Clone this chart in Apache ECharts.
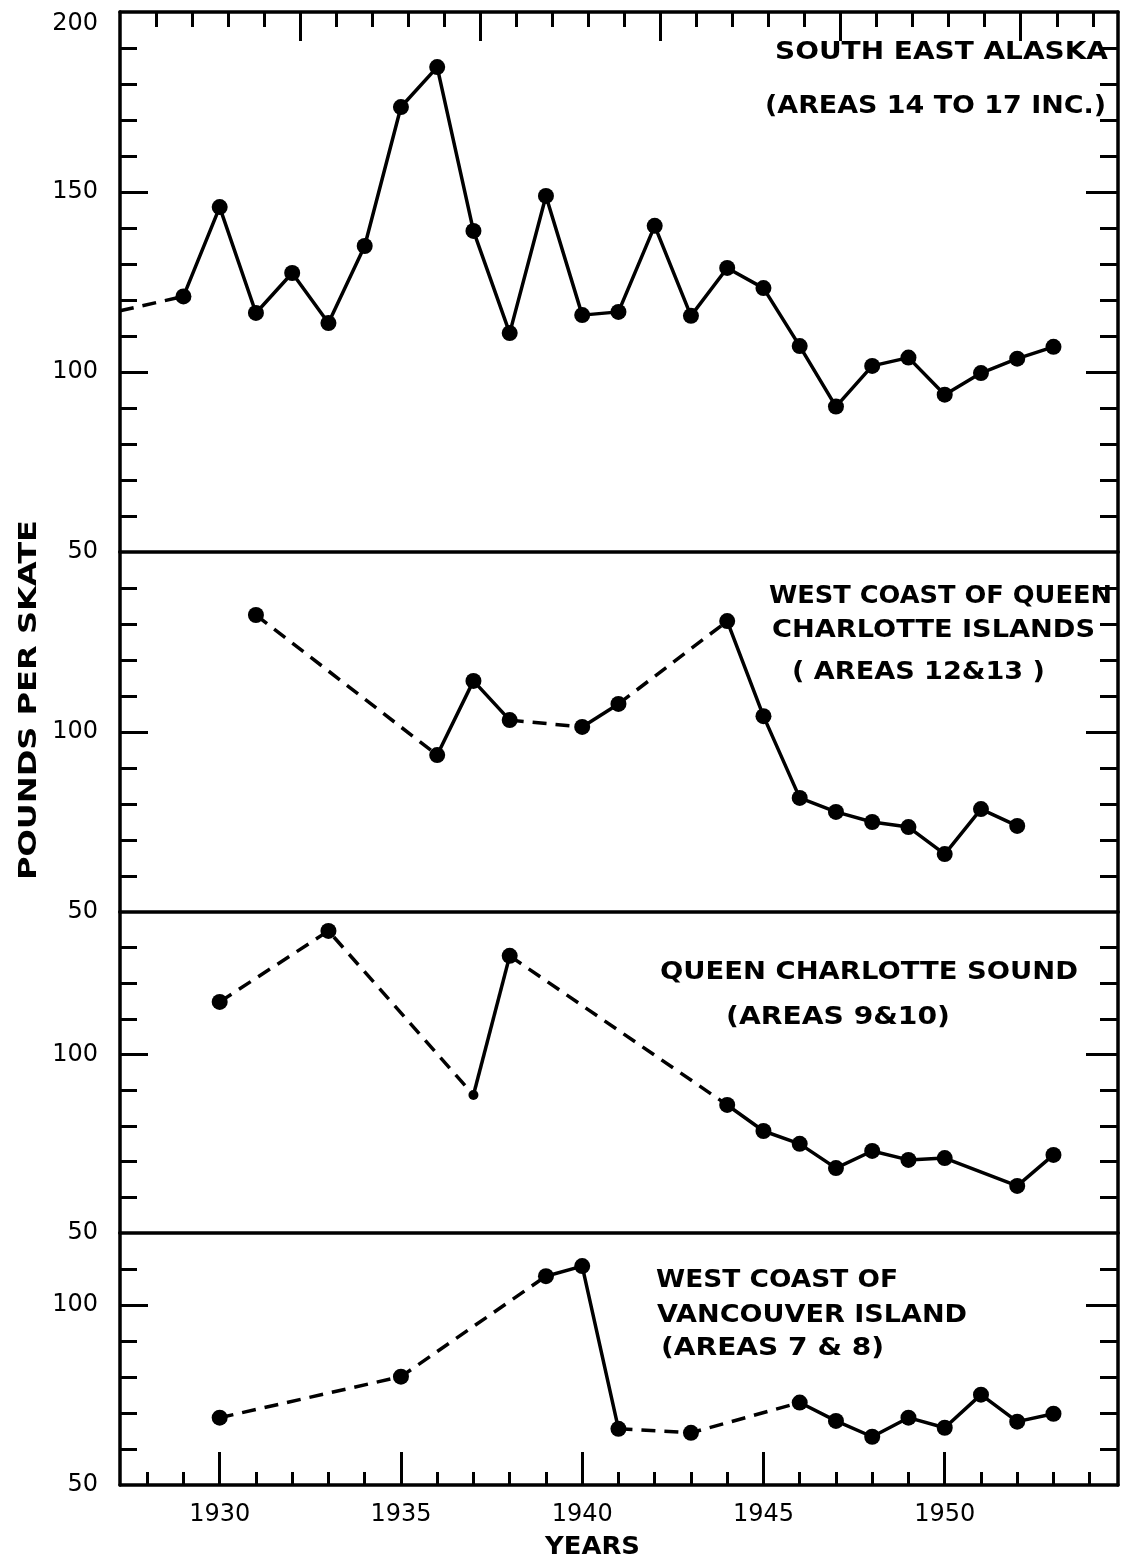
<!DOCTYPE html>
<html>
<head>
<meta charset="utf-8">
<script src="https://cdn.jsdelivr.net/npm/echarts@6/dist/echarts.min.js"></script>
<style>
html,body{margin:0;padding:0;background:#ffffff;}
#chart{width:1130px;height:1559px;}
</style>
</head>
<body>
<div id="chart"></div>
<script>
// ------------------------------------------------------------------
// DATA — pounds per skate by year
// "dashed" flags mark segments that bridge missing years.
// ------------------------------------------------------------------
const yearLabels = [1930, 1935, 1940, 1945, 1950];
const yAxisTitle = 'POUNDS PER SKATE';
const xAxisTitle = 'YEARS';

// South East Alaska (Areas 14 to 17 inc.) — first point is the lead-in from the left edge
const seaYears  = [1927.25, 1929, 1930, 1931, 1932, 1933, 1934, 1935, 1936, 1937, 1938, 1939, 1940,
                   1941, 1942, 1943, 1944, 1945, 1946, 1947, 1948, 1949, 1950, 1951, 1952, 1953];
const seaValues = [117, 121, 145.8, 116.4, 127.5, 113.6, 135, 173.6, 184.7, 139.2, 110.8, 148.9, 115.8,
                   116.7, 140.6, 115.6, 128.9, 123.3, 107.2, 90.4, 101.7, 104, 93.7, 99.7, 103.7, 107];
const seaDashed = [1, 0, 0, 0, 0, 0, 0, 0, 0, 0, 0, 0, 0, 0, 0, 0, 0, 0, 0, 0, 0, 0, 0, 0, 0];
const seaLeadIn = 1;   // number of leading points with no marker
const seaTitle  = ['SOUTH EAST ALASKA', '(AREAS 14 TO 17 INC.)'];

// West Coast of Queen Charlotte Islands (Areas 12 & 13)
const wqcYears  = [1931, 1936, 1937, 1938, 1940, 1941, 1944, 1945, 1946, 1947, 1948, 1949, 1950, 1951, 1952];
const wqcValues = [132.5, 93.6, 114.2, 103.3, 101.4, 107.8, 130.8, 104.4, 81.7, 77.8, 75, 73.6, 66.1, 78.6, 73.9];
const wqcDashed = [1, 0, 0, 1, 0, 1, 0, 0, 0, 0, 0, 0, 0, 0];
const wqcTitle  = ['WEST COAST OF QUEEN', 'CHARLOTTE ISLANDS', '( AREAS 12&13 )'];

// Queen Charlotte Sound (Areas 9 & 10)
const qcsYears  = [1930, 1933, 1937, 1938, 1944, 1945, 1946, 1947, 1948, 1949, 1950, 1952, 1953];
const qcsValues = [114.8, 134.7, 88.7, 127.7, 85.9, 78.6, 75, 68.2, 73, 70.5, 71, 63.2, 71.9];
const qcsDashed = [1, 1, 0, 1, 0, 0, 0, 0, 0, 0, 0, 0];
const qcsSmall  = [1937];  // year drawn with a small dot
const qcsTitle  = ['QUEEN CHARLOTTE SOUND', '(AREAS 9&10)'];

// West Coast of Vancouver Island (Areas 7 & 8)
const wviYears  = [1930, 1935, 1939, 1940, 1941, 1943, 1946, 1947, 1948, 1949, 1950, 1951, 1952, 1953];
const wviValues = [68.7, 80.1, 108, 110.8, 65.6, 64.5, 72.9, 67.8, 63.4, 68.7, 65.9, 75.1, 67.6, 69.8];
const wviDashed = [1, 1, 0, 0, 1, 1, 0, 0, 0, 0, 0, 0, 0];
const wviTitle  = ['WEST COAST OF', 'VANCOUVER ISLAND', '(AREAS 7 & 8)'];

// y-axis ranges and labelled values per panel
const panelMax    = [200, 150, 140, 120];
const panelLabels = [[50, 100, 150, 200], [50, 100], [50, 100], [50, 100]];

// ------------------------------------------------------------------
// LAYOUT / STYLE
// ------------------------------------------------------------------
const X_MIN = 1927.25, X_MAX = 1954.78;
const GRID_LEFT = 120, GRID_RIGHT = 12;
const gridTops    = [12, 552, 912, 1233];
const gridHeights = [540, 360, 321, 252];
const INK = '#000000';
const FONT = '"DejaVu Sans", "Noto Sans", sans-serif';

const panels = [
  { years: seaYears, values: seaValues, dashed: seaDashed, leadIn: seaLeadIn, small: [] },
  { years: wqcYears, values: wqcValues, dashed: wqcDashed, leadIn: 0, small: [] },
  { years: qcsYears, values: qcsValues, dashed: qcsDashed, leadIn: 0, small: qcsSmall },
  { years: wviYears, values: wviValues, dashed: wviDashed, leadIn: 0, small: [] }
];

// annotation placement: [text, leftX, rightX, centerY]
const annotations = [
  [seaTitle[0], 775, 1108, 52],
  [seaTitle[1], 765, 1106, 106],
  [wqcTitle[0], 769, 1112, 596],
  [wqcTitle[1], 772, 1095, 630],
  [wqcTitle[2], 792, 1045, 672],
  [qcsTitle[0], 660, 1078, 972],
  [qcsTitle[1], 726, 950, 1017],
  [wviTitle[0], 656, 898, 1280],
  [wviTitle[1], 657, 967, 1315],
  [wviTitle[2], 661, 884, 1348],
  [xAxisTitle, 545, 640, 1547]
];

// ------------------------------------------------------------------
const range = (a, b, step) => { const r = []; for (let v = a; v <= b + 1e-9; v += step) r.push(v); return r; };

const grids = [], xAxes = [], yAxes = [], series = [];
const axisLineStyle = { color: INK, width: 3.5 };
const tickLine = { color: INK, width: 3 };
const labelStyle = { color: INK, fontFamily: FONT, fontSize: 24 };

panels.forEach((p, i) => {
  grids.push({ left: GRID_LEFT, right: GRID_RIGHT, top: gridTops[i], height: gridHeights[i],
               containLabel: false, outerBoundsMode: 'none' });

  // bottom x axis (panel separator / bottom frame)
  const xi = xAxes.length;
  xAxes.push({
    type: 'value', gridIndex: i, min: X_MIN, max: X_MAX, position: 'bottom',
    axisLine: { show: true, onZero: false, lineStyle: axisLineStyle },
    axisTick: i === 3 ? { show: true, inside: true, length: 13, lineStyle: tickLine,
                          customValues: range(1928, 1954, 1).filter(v => v % 5 !== 0) } : { show: false },
    axisLabel: i === 3 ? Object.assign({ show: true, customValues: yearLabels, formatter: v => String(v),
                           margin: 18 }, labelStyle) : { show: false },
    splitLine: { show: false }
  });
  if (i === 3) {
    xAxes.push({
      type: 'value', gridIndex: i, min: X_MIN, max: X_MAX, position: 'bottom',
      axisLine: { show: false, onZero: false },
      axisTick: { show: true, inside: true, length: 33, lineStyle: tickLine, customValues: yearLabels },
      axisLabel: { show: false }, splitLine: { show: false }
    });
  }
  if (i === 0) {
    // top frame: hand-ruled scale whose ticks are offset from the bottom axis
    xAxes.push({
      type: 'value', gridIndex: 0, min: 0, max: 27.7, position: 'top',
      axisLine: { show: true, onZero: false, lineStyle: axisLineStyle },
      axisTick: { show: true, inside: true, length: 15, lineStyle: tickLine,
                  customValues: range(1, 27, 1).filter(v => v % 5 !== 0) },
      axisLabel: { show: false }, splitLine: { show: false }
    });
    xAxes.push({
      type: 'value', gridIndex: 0, min: 0, max: 27.7, position: 'top',
      axisLine: { show: false, onZero: false },
      axisTick: { show: true, inside: true, length: 29, lineStyle: tickLine, customValues: [5, 10, 15, 20, 25] },
      axisLabel: { show: false }, splitLine: { show: false }
    });
  }

  const ymax = panelMax[i];
  const minor = range(60, ymax - 10, 10).filter(v => v % 50 !== 0);
  const major = range(100, ymax - 1, 50);
  const yi = yAxes.length;
  const yBase = { type: 'value', gridIndex: i, min: 50, max: ymax, splitLine: { show: false } };
  yAxes.push(Object.assign({}, yBase, {
    position: 'left',
    axisLine: { show: true, onZero: false, lineStyle: axisLineStyle },
    axisTick: { show: true, inside: true, length: 28, lineStyle: tickLine, customValues: major },
    axisLabel: Object.assign({ show: true, customValues: panelLabels[i], formatter: v => String(v),
                 margin: 22, verticalAlignMaxLabel: i === 0 ? 'top' : null }, labelStyle)
  }));
  yAxes.push(Object.assign({}, yBase, {
    position: 'left',
    axisLine: { show: false, onZero: false },
    axisTick: { show: true, inside: true, length: 17, lineStyle: tickLine, customValues: minor },
    axisLabel: { show: false }
  }));
  yAxes.push(Object.assign({}, yBase, {
    position: 'right',
    axisLine: { show: true, onZero: false, lineStyle: axisLineStyle },
    axisTick: { show: true, inside: true, length: 18, lineStyle: tickLine, customValues: minor },
    axisLabel: { show: false }
  }));
  yAxes.push(Object.assign({}, yBase, {
    position: 'right',
    axisLine: { show: false, onZero: false },
    axisTick: { show: true, inside: true, length: 32, lineStyle: tickLine, customValues: major },
    axisLabel: { show: false }
  }));

  // line runs: consecutive segments with the same (solid / dashed) style
  let s = 0;
  while (s < p.dashed.length) {
    let e = s;
    while (e + 1 < p.dashed.length && p.dashed[e + 1] === p.dashed[s]) e++;
    const pts = [];
    for (let k = s; k <= e + 1; k++) pts.push([p.years[k], p.values[k]]);
    series.push({
      type: 'line', xAxisIndex: xi, yAxisIndex: yi, data: pts,
      symbol: 'none', showSymbol: false, silent: true, animation: false, z: 2,
      lineStyle: { color: INK, width: 3.5, type: p.dashed[s] ? [14, 9] : 'solid', cap: 'butt' }
    });
    s = e + 1;
  }
  // markers
  const marks = [];
  for (let k = p.leadIn; k < p.years.length; k++) marks.push([p.years[k], p.values[k]]);
  series.push({
    type: 'scatter', xAxisIndex: xi, yAxisIndex: yi, data: marks, silent: true, animation: false, z: 3,
    symbol: 'circle',
    symbolSize: d => (p.small.indexOf(d[0]) >= 0 ? 10 : 16),
    itemStyle: { color: INK, opacity: 1 }
  });
});

// text annotations, stretched horizontally to the lettering width of the original
const mctx = document.createElement('canvas').getContext('2d');
function fitText(text, x0, x1, cy, size) {
  const font = 'bold ' + size + 'px ' + FONT;
  mctx.font = font;
  const w = mctx.measureText(text).width;
  return {
    type: 'text', x: x0, y: cy, scaleX: (x1 - x0) / w, silent: true, z: 10,
    style: { text: text, font: font, fill: INK,
             align: 'left', verticalAlign: 'middle', textAlign: 'left', textVerticalAlign: 'middle' }
  };
}
const graphics = annotations.map(a => fitText(a[0], a[1], a[2], a[3], 25));
// rotated y-axis title
(function () {
  const size = 25, font = 'bold ' + size + 'px ' + FONT;
  mctx.font = font;
  const w = mctx.measureText(yAxisTitle).width;
  graphics.push({
    type: 'text', x: 29, y: 700, rotation: Math.PI / 2, scaleX: 360 / w, silent: true, z: 10,
    style: { text: yAxisTitle, font: font, fill: INK,
             align: 'center', verticalAlign: 'middle', textAlign: 'center', textVerticalAlign: 'middle' }
  });
})();

const chart = echarts.init(document.getElementById('chart'), null, { renderer: 'canvas' });
chart.setOption({
  backgroundColor: '#ffffff',
  animation: false,
  grid: grids,
  xAxis: xAxes,
  yAxis: yAxes,
  series: series,
  graphic: { elements: graphics }
});
</script>
</body>
</html>
